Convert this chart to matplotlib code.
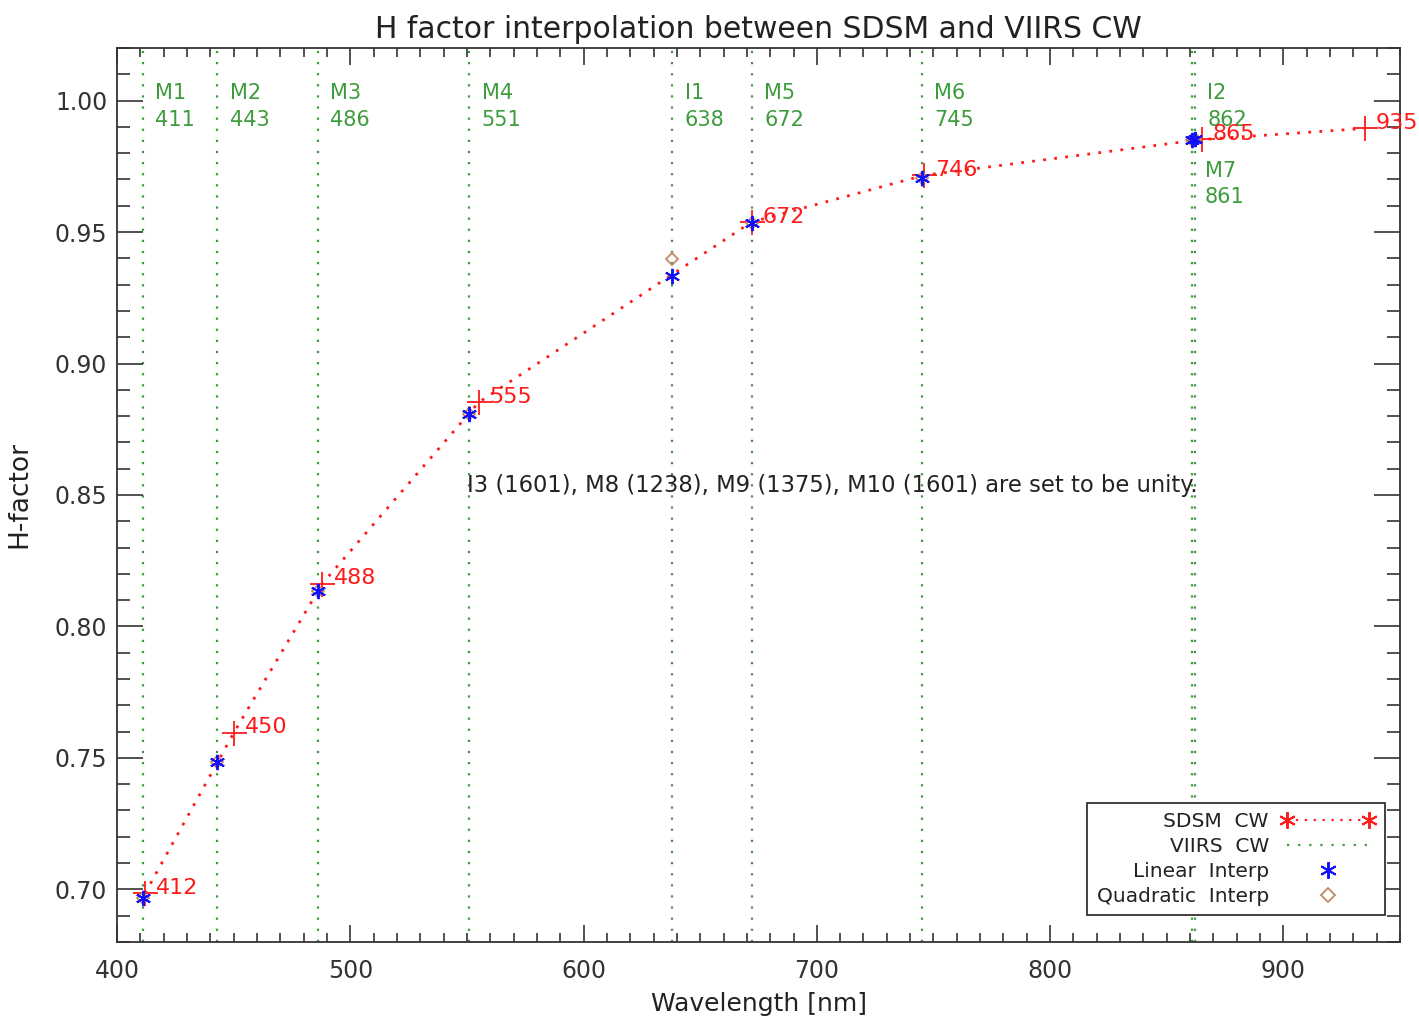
import matplotlib
matplotlib.use("Agg")
import matplotlib.pyplot as plt
from matplotlib.lines import Line2D
from matplotlib.legend_handler import HandlerLine2D
import numpy as np

# SDSM centre wavelengths and H factor
sdsm_wl = [412, 450, 488, 555, 672, 746, 865, 935]
sdsm_h = [0.6985, 0.7595, 0.8163, 0.8852, 0.9538, 0.9716, 0.9852, 0.9894]

# VIIRS bands, centre wavelengths and interpolated H factor
viirs_band = ["M1", "M2", "M3", "M4", "I1", "M5", "M6", "I2", "M7"]
viirs_wl = [411, 443, 486, 551, 638, 672, 745, 862, 861]
linear_h = [0.6966, 0.7485, 0.8136, 0.8807, 0.9333, 0.9534, 0.9705, 0.9852, 0.9851]
quad_h = [0.6966, 0.7485, 0.8136, 0.8807, 0.9398, 0.9534, 0.9705, 0.9852, 0.9851]

RED = "#ff1a1a"
GREEN = "#3c9c3c"
BLUE = "#1010ff"
BROWN = "#c08a66"
TXT = "#222222"

plt.rcParams["font.family"] = "DejaVu Sans"

fig = plt.figure(figsize=(14.19, 10.19), dpi=100)
ax = fig.add_axes([0.0825, 0.0756, 0.9041, 0.8773])

# VIIRS centre wavelengths as vertical dotted lines
for wl in viirs_wl:
    ax.axvline(wl, color=GREEN, linestyle=(0, (1, 4)), lw=1.6, zorder=1)

# band labels
for band, wl in zip(viirs_band, viirs_wl):
    if band == "M7":
        y1, y2 = 0.9731, 0.9633
    else:
        y1, y2 = 1.0027, 0.9928
    ax.annotate(band, (wl, y1), xytext=(9, 0), textcoords="offset points",
                color=GREEN, fontsize=15, va="center", ha="left")
    ax.annotate(str(wl), (wl, y2), xytext=(9, 0), textcoords="offset points",
                color=GREEN, fontsize=15, va="center", ha="left")

# SDSM curve
ax.plot(sdsm_wl, sdsm_h, color=RED, linestyle=(0, (1, 3)), lw=2, marker="+",
        markersize=18, markeredgewidth=1.3, zorder=3)
for wl, h in zip(sdsm_wl, sdsm_h):
    ax.annotate(str(wl), (wl, h), xytext=(8, 4), textcoords="offset points",
                color=RED, fontsize=16, va="center", ha="left", zorder=4)

# interpolated values
ax.plot(viirs_wl, quad_h, linestyle="none", marker="D", markersize=6,
        markerfacecolor="none", markeredgecolor=BROWN, markeredgewidth=1.3, zorder=4)
ax.plot(viirs_wl, linear_h, linestyle="none", marker=(6, 2, 0), markersize=11,
        color=BLUE, markeredgewidth=1.4, zorder=5)

ax.text(550, 0.8535, "I3 (1601), M8 (1238), M9 (1375), M10 (1601) are set to be unity.",
        fontsize=16.3, color=TXT, va="center", ha="left")

ax.set_xlim(400, 950)
ax.set_ylim(0.68, 1.02)
ax.set_xticks(np.arange(400, 951, 100))
ax.set_xticks(np.arange(400, 951, 10), minor=True)
ax.set_yticks(np.arange(0.70, 1.001, 0.05))
ax.set_yticks(np.arange(0.68, 1.021, 0.01), minor=True)
ax.set_yticklabels([f"{v:.2f}" for v in np.arange(0.70, 1.001, 0.05)])

ax.tick_params(axis="x", which="major", direction="in", length=12.5, width=1.2,
               top=True, labelsize=17, pad=12, colors="#333333")
ax.tick_params(axis="x", which="minor", direction="in", length=6.5, width=1.2, top=True,
               colors="#333333")
ax.tick_params(axis="y", which="major", direction="in", length=19, width=1.2,
               right=True, labelsize=17, pad=7, colors="#333333")
ax.tick_params(axis="y", which="minor", direction="in", length=9.5, width=1.2, right=True,
               colors="#333333")
for sp in ax.spines.values():
    sp.set_linewidth(1.3)
    sp.set_color("#333333")

ax.set_title("H factor interpolation between SDSM and VIIRS CW", fontsize=21.5,
             color=TXT, pad=7)
ax.set_xlabel("Wavelength [nm]", fontsize=18, color=TXT, labelpad=7)
ax.set_ylabel("H-factor", fontsize=19, color=TXT, labelpad=16)

h_sdsm = Line2D([], [], color=RED, linestyle=(0, (1, 3)), lw=1.6, marker=(6, 2, 0),
                markersize=12, markeredgewidth=1.4)
h_viirs = Line2D([], [], color=GREEN, linestyle=(0, (1, 4)), lw=1.6)
h_lin = Line2D([], [], color=BLUE, linestyle="none", marker=(6, 2, 0), markersize=12,
               markeredgewidth=1.4)
h_quad = Line2D([], [], color=BROWN, linestyle="none", marker="D", markersize=7,
                markerfacecolor="none", markeredgewidth=1.3)
handles = [h_sdsm, h_viirs, h_lin, h_quad]
labels = ["SDSM  CW", "VIIRS  CW", "Linear  Interp", "Quadratic  Interp"]
leg = ax.legend(handles, labels, loc="lower right", bbox_to_anchor=(0.988, 0.030),
                markerfirst=False, numpoints=2, handlelength=4.7,
                handler_map={h_lin: HandlerLine2D(numpoints=1),
                             h_quad: HandlerLine2D(numpoints=1)},
                fontsize=14.5, fancybox=False, edgecolor="#333333", framealpha=1,
                labelspacing=0.3, borderpad=0.45, borderaxespad=0, handletextpad=0.6)
leg.get_frame().set_linewidth(1.3)
leg._legend_box.sep = 0
for t in leg.get_texts():
    t.set_color(TXT)

fig.savefig("out.png", dpi=100)
